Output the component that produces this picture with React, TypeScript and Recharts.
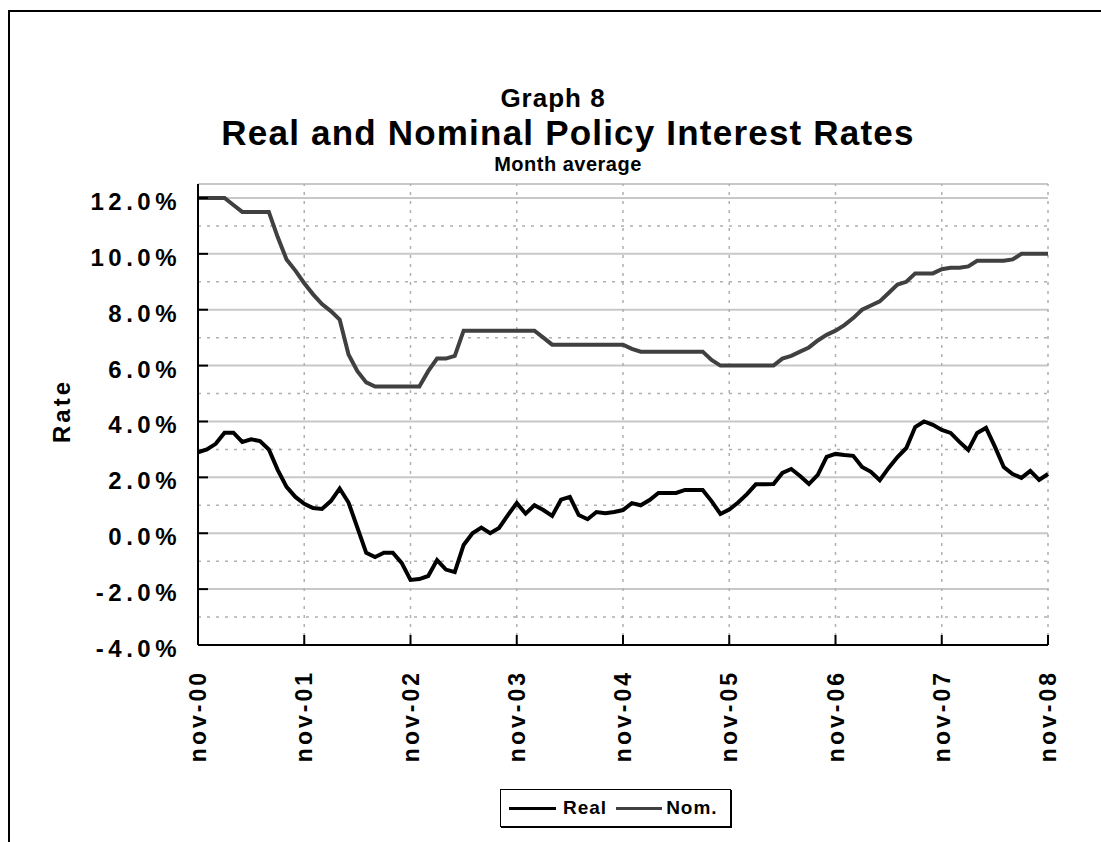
import React from 'react'
import { LineChart, Line, XAxis, YAxis, CartesianGrid, ReferenceLine } from 'recharts'

// monthly data, nov-00 .. nov-08 (97 months)
const real = [
  2.9, 3.0, 3.2, 3.6, 3.6, 3.27, 3.36, 3.3, 3.0, 2.27, 1.66, 1.3,
  1.05, 0.9, 0.87, 1.15, 1.6, 1.1, 0.2, -0.7, -0.85, -0.7, -0.7, -1.06,
  -1.67, -1.64, -1.53, -0.96, -1.3, -1.39, -0.42, 0.0, 0.2, 0.0, 0.19, 0.65,
  1.08, 0.7, 1.0, 0.83, 0.62, 1.2, 1.3, 0.65, 0.5, 0.76, 0.72, 0.76,
  0.83, 1.08, 1.0, 1.19, 1.44, 1.44, 1.44, 1.55, 1.55, 1.55, 1.15, 0.69,
  0.85, 1.1, 1.4, 1.75, 1.75, 1.76, 2.16, 2.3, 2.05, 1.76, 2.09, 2.73,
  2.84, 2.8, 2.77, 2.37, 2.2, 1.9, 2.34, 2.73, 3.05, 3.8, 4.0, 3.88,
  3.7, 3.59, 3.27, 2.98, 3.59, 3.77, 3.1, 2.37, 2.12, 1.98, 2.23, 1.91,
  2.12,
]

const nominal = [
  12.0, 12.0, 12.0, 12.0, 11.75, 11.5, 11.5, 11.5, 11.5, 10.6, 9.8, 9.4,
  8.95, 8.55, 8.2, 7.95, 7.65, 6.4, 5.8, 5.4, 5.25, 5.25, 5.25, 5.25,
  5.25, 5.25, 5.8, 6.25, 6.25, 6.35, 7.25, 7.25, 7.25, 7.25, 7.25, 7.25,
  7.25, 7.25, 7.25, 7.0, 6.75, 6.75, 6.75, 6.75, 6.75, 6.75, 6.75, 6.75,
  6.75, 6.6, 6.5, 6.5, 6.5, 6.5, 6.5, 6.5, 6.5, 6.5, 6.2, 6.0,
  6.0, 6.0, 6.0, 6.0, 6.0, 6.0, 6.25, 6.35, 6.5, 6.65, 6.9, 7.1,
  7.25, 7.45, 7.7, 8.0, 8.15, 8.3, 8.6, 8.9, 9.0, 9.3, 9.3, 9.3,
  9.45, 9.5, 9.5, 9.55, 9.75, 9.75, 9.75, 9.75, 9.8, 10.0, 10.0, 10.0,
  10.0,
]

const xTickLabels = ['nov-00', 'nov-01', 'nov-02', 'nov-03', 'nov-04', 'nov-05', 'nov-06', 'nov-07', 'nov-08']
const xTicks = [0, 12, 24, 36, 48, 60, 72, 84, 96]
const yTicks = [-4, -2, 0, 2, 4, 6, 8, 10, 12]
const yMinor = [-3, -1, 1, 3, 5, 7, 9, 11]

const data = real.map((r, i) => ({ m: i, real: r, nominal: nominal[i] }))

const font = '"Liberation Sans", Arial, sans-serif'

// eslint-disable-next-line @typescript-eslint/no-explicit-any
function YTick({ x, y, payload }: any) {
  return (
    <g>
      <line x1={x} x2={x + 10} y1={y} y2={y} stroke="#000" strokeWidth={2} />
      <text x={x - 17} y={y} dy="0.5em" textAnchor="end" fontFamily={font} fontWeight="bold"
        fontSize={24} letterSpacing={4.5} fill="#000">
        {payload.value.toFixed(1)}%
      </text>
    </g>
  )
}

// eslint-disable-next-line @typescript-eslint/no-explicit-any
function XTick({ x, y, payload }: any) {
  const idx = xTicks.indexOf(payload.value)
  return (
    <g>
      <line x1={x} x2={x} y1={y} y2={y - 10} stroke="#000" strokeWidth={2} />
      <text x={x} y={y + 25} dy="0.35em" textAnchor="end" transform={`rotate(-90 ${x} ${y + 25})`}
        fontFamily={font} fontWeight="bold" fontSize={23} letterSpacing={3} fill="#000">
        {xTickLabels[idx]}
      </text>
    </g>
  )
}

export default function App() {
  return (
    <div style={{ position: 'absolute', left: 0, top: 0, width: 1101, height: 842, background: '#fff', overflow: 'hidden' }}>
      <div style={{ position: 'absolute', left: 8, top: 10, width: 1093, height: 832, borderTop: '2px solid #000', borderLeft: '2px solid #000', boxSizing: 'border-box' }} />
      <div style={{ position: 'absolute', left: 0, width: 1136, top: 81, textAlign: 'center', fontFamily: font, fontWeight: 'bold', color: '#000' }}>
        <div style={{ fontSize: 26, lineHeight: '34px', letterSpacing: 1, marginRight: 30 }}>Graph 8</div>
        <div style={{ fontSize: 35, lineHeight: '35px', letterSpacing: 1.2 }}>Real and Nominal Policy Interest Rates</div>
        <div style={{ fontSize: 20, lineHeight: '28px', letterSpacing: 0.5 }}>Month average</div>
      </div>
      <div style={{ position: 'absolute', left: 0, top: 0 }}>
        <LineChart width={1101} height={842} data={data} margin={{ top: 184, right: 53, bottom: 77, left: 68 }}>
          <CartesianGrid horizontal vertical={false} stroke="#c8c8c8" strokeWidth={2} />
          {yMinor.map((v) => (
            <ReferenceLine key={`h${v}`} y={v} stroke="#b0b0b0" strokeWidth={1.5} strokeDasharray="3 6" />
          ))}
          {xTicks.slice(1).map((v) => (
            <ReferenceLine key={`v${v}`} x={v} stroke="#b0b0b0" strokeWidth={1.5} strokeDasharray="3 6" />
          ))}
          <XAxis dataKey="m" type="number" domain={[0, 96]} ticks={xTicks} interval={0}
            axisLine={{ stroke: '#000', strokeWidth: 2 }} tickLine={false} tickSize={0} tickMargin={0}
            height={120} tick={<XTick />} />
          <YAxis type="number" domain={[-4, 12.5]} ticks={yTicks} interval={0} allowDataOverflow
            axisLine={{ stroke: '#000', strokeWidth: 2 }} tickLine={false} tickSize={0} tickMargin={0}
            width={130} tick={<YTick />} />
          <Line type="linear" dataKey="real" stroke="#000" strokeWidth={4} dot={false} isAnimationActive={false} />
          <Line type="linear" dataKey="nominal" stroke="#404040" strokeWidth={4} dot={false} isAnimationActive={false} />
        </LineChart>
      </div>
      <div style={{ position: 'absolute', left: 62, top: 411, transform: 'translate(-50%, -50%) rotate(-90deg)', fontFamily: font, fontWeight: 'bold', fontSize: 24, letterSpacing: 3 }}>
        Rate
      </div>
      <div style={{ position: 'absolute', left: 500, top: 789, width: 231, height: 38, boxSizing: 'border-box', border: '1px solid #000', boxShadow: '1px 1px 0 #000', display: 'flex', alignItems: 'center', paddingLeft: 8, fontFamily: font, fontWeight: 'bold', fontSize: 19, letterSpacing: 1 }}>
        <span style={{ display: 'inline-block', width: 47, height: 3, background: '#000', marginRight: 7 }} />
        <span>Real</span>
        <span style={{ display: 'inline-block', width: 46, height: 3, background: '#404040', margin: '0 4px 0 9px' }} />
        <span>Nom.</span>
      </div>
    </div>
  )
}
